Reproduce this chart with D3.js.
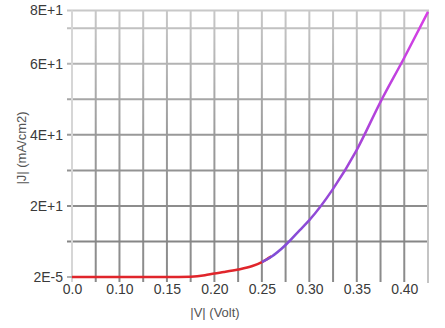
<!DOCTYPE html>
<html>
<head>
<meta charset="utf-8">
<script src="https://cdn.jsdelivr.net/npm/d3@7"></script>
<style>
  body { margin: 0; background: #fff; }
  text { font-family: "Liberation Sans", Arial, sans-serif; }
</style>
</head>
<body>
<svg id="chart" width="445" height="328"></svg>
<script>
const vRed = [0.05, 0.075, 0.10, 0.125, 0.15, 0.175, 0.19, 0.20, 0.21, 0.225, 0.24, 0.25, 0.26]
const jRed = [0.0, 0.0, 0.0, 0.0, 0.0, 0.1, 0.5, 1.0, 1.4, 2.1, 3.1, 4.2, 5.8]
const vFit = [0.25, 0.26, 0.275, 0.29, 0.30, 0.325, 0.35, 0.375, 0.40, 0.425]
const jFit = [4.2, 5.7, 9.0, 13.2, 16.0, 24.8, 35.8, 49.3, 61.7, 74.6]

const xTickVals = [0.05, 0.10, 0.15, 0.20, 0.25, 0.30, 0.35, 0.40]
const xTickLabels = ["0.0", "0.10", "0.15", "0.20", "0.25", "0.30", "0.35", "0.40"]
const yTickVals = [0, 20, 40, 60, 75]
const yTickLabels = ["2E-5", "2E+1", "4E+1", "6E+1", "8E+1"]

const svg = d3.select("#chart")
const L = 72, R = 428, T = 10.5, B = 277

const x = d3.scaleLinear().domain([0.05, 0.425]).range([L, R])
const y = d3.scaleLinear().domain([0, 75]).range([B, T])

// grid shading: light at the top, darker lower down
const shade = d3.scaleLinear().domain([T, 130, 250]).range(["#c8c8c8", "#9a9a9a", "#858585"])

const defs = svg.append("defs")
const vg = defs.append("linearGradient").attr("id", "vgrad")
  .attr("gradientUnits", "userSpaceOnUse")
  .attr("x1", 0).attr("x2", 0).attr("y1", T).attr("y2", 282)
vg.append("stop").attr("offset", 0).attr("stop-color", "#c8c8c8")
vg.append("stop").attr("offset", 0.45).attr("stop-color", "#9c9c9c")
vg.append("stop").attr("offset", 1).attr("stop-color", "#8a8a8a")

const pg = defs.append("linearGradient").attr("id", "pgrad")
  .attr("gradientUnits", "userSpaceOnUse")
  .attr("x1", 0).attr("x2", 0).attr("y1", B).attr("y2", T)
pg.append("stop").attr("offset", 0).attr("stop-color", "#7a4fd6")
pg.append("stop").attr("offset", 0.5).attr("stop-color", "#a844d8")
pg.append("stop").attr("offset", 1).attr("stop-color", "#d840e6")

const G = svg.append("g")

// vertical grid
const vLines = d3.range(0.075, 0.42, 0.025)
G.selectAll(".vl").data(vLines).join("line")
  .attr("x1", d => x(d)).attr("x2", d => x(d))
  .attr("y1", T).attr("y2", 282)
  .attr("stroke", "url(#vgrad)").attr("stroke-width", 2)

// horizontal grid
const hLines = d3.range(10, 71, 10)
G.selectAll(".hl").data(hLines).join("line")
  .attr("x1", L - 5).attr("x2", R)
  .attr("y1", d => y(d)).attr("y2", d => y(d))
  .attr("stroke", d => shade(y(d))).attr("stroke-width", 2)

// frame
G.append("line").attr("x1", L - 5).attr("x2", R + 1).attr("y1", T).attr("y2", T)
  .attr("stroke", "#c8c8c8").attr("stroke-width", 2)
G.append("line").attr("x1", R).attr("x2", R).attr("y1", T).attr("y2", 283)
  .attr("stroke", "#c4c4c4").attr("stroke-width", 2)
G.append("line").attr("x1", L).attr("x2", L).attr("y1", T).attr("y2", 282)
  .attr("stroke", "#d6d6d6").attr("stroke-width", 2)
G.append("line").attr("x1", L - 5).attr("x2", L).attr("y1", B).attr("y2", B)
  .attr("stroke", "#999").attr("stroke-width", 1.5)

// axes labels (text only, grid drawn above)
const xAxis = d3.axisBottom(x).tickValues(xTickVals)
  .tickFormat((d, i) => xTickLabels[i]).tickSize(0).tickPadding(6)
const gx = svg.append("g").attr("transform", `translate(0,${B + 1})`).call(xAxis)
gx.select(".domain").remove()
gx.selectAll("text").style("font-size", "14px").attr("fill", "#3a3a3a")

const yAxis = d3.axisLeft(y).tickValues(yTickVals)
  .tickFormat((d, i) => yTickLabels[i]).tickSize(0).tickPadding(9)
const gy = svg.append("g").attr("transform", `translate(${L},0)`).call(yAxis)
gy.select(".domain").remove()
gy.selectAll("text").style("font-size", "14px").attr("fill", "#3a3a3a")

svg.append("text").attr("x", 215).attr("y", 317).attr("text-anchor", "middle")
  .style("font-size", "13px").attr("fill", "#555").text("|V| (Volt)")
svg.append("text").attr("transform", "translate(26,148) rotate(-90)")
  .attr("text-anchor", "middle")
  .style("font-size", "13px").attr("fill", "#555").text("|J| (mA/cm2)")

// curves
const line = d3.line().x(d => x(d[0])).y(d => y(d[1])).curve(d3.curveMonotoneX)
svg.append("path").datum(d3.zip(vRed, jRed)).attr("d", line)
  .attr("fill", "none").attr("stroke", "#e0252b").attr("stroke-width", 2.5)
svg.append("path").datum(d3.zip(vFit, jFit)).attr("d", line)
  .attr("fill", "none").attr("stroke", "url(#pgrad)").attr("stroke-width", 2.5)
</script>
</body>
</html>
